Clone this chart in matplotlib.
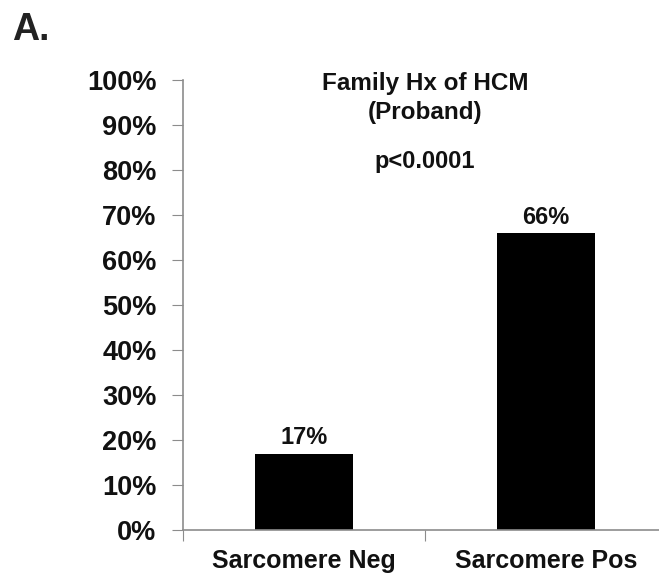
import matplotlib.pyplot as plt
from matplotlib.ticker import PercentFormatter

categories = ["Sarcomere Neg", "Sarcomere Pos"]
values = [17, 66]
value_labels = ["17%", "66%"]
title_lines = "Family Hx of HCM\n(Proband)"
p_text = "p<0.0001"

FONT = ["Liberation Sans", "DejaVu Sans"]
GREY = "#8c8c8c"

W, H = 659, 577
fig = plt.figure(figsize=(W / 100, H / 100), dpi=100)
ax = fig.add_axes([183 / W, 1 - 530 / H, (667 - 183) / W, (530 - 80) / H])

x = range(len(categories))
bars = ax.bar(x, values, width=0.405, color="black")

ax.set_xlim(-0.5, 1.5)
ax.set_ylim(0, 100)
ax.set_yticks(range(0, 101, 10))
ax.yaxis.set_major_formatter(PercentFormatter(decimals=0))
ax.set_xticks([-0.5, 0.5, 1.5])
ax.set_xticklabels([])
ax.set_xticks(list(x), minor=True)
ax.set_xticklabels(categories, minor=True)
ax.tick_params(axis="x", which="minor", length=0, pad=14)
ax.tick_params(axis="x", which="major", length=8, color=GREY, direction="out")
ax.tick_params(axis="y", length=8, color=GREY, direction="out", pad=11)

for lbl in ax.get_yticklabels() + ax.get_xticklabels(minor=True):
    lbl.set_family(FONT)
    lbl.set_fontweight("bold")
    lbl.set_color("#111111")
for lbl in ax.get_yticklabels():
    lbl.set_fontsize(19.5)
for lbl in ax.get_xticklabels(minor=True):
    lbl.set_fontsize(18)

for side in ["top", "right"]:
    ax.spines[side].set_visible(False)
for side in ["left", "bottom"]:
    ax.spines[side].set_color(GREY)
    ax.spines[side].set_linewidth(1.2)

for bar, txt in zip(bars, value_labels):
    ax.text(bar.get_x() + bar.get_width() / 2, bar.get_height() + 1.0, txt,
            ha="center", va="bottom", fontsize=17, fontweight="bold",
            family=FONT, color="#111111")

ax.text(0.5, 101.8, title_lines, ha="center", va="top", fontsize=17.5,
        fontweight="bold", family=FONT, linespacing=1.35, color="#111111",
        clip_on=False)
ax.text(0.5, 82, p_text, ha="center", va="center", fontsize=17,
        fontweight="bold", family=FONT, color="#111111")

fig.text(12 / W, 1 - 30 / H, "A.", ha="left", va="center", fontsize=27,
         fontweight="bold", family=FONT, color="#222222")

fig.savefig("out.png", dpi=100)
